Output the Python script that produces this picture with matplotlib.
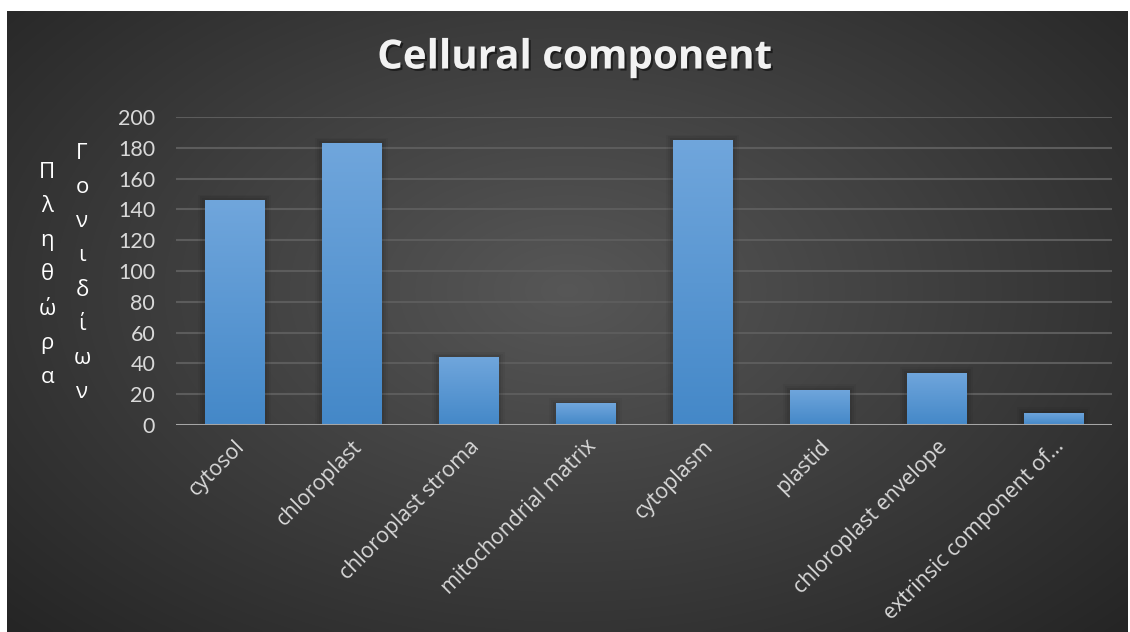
import numpy as np
import matplotlib.pyplot as plt
import matplotlib.patheffects as pe
from matplotlib.patches import Rectangle

# data
categories = ['cytosol', 'chloroplast', 'chloroplast stroma', 'mitochondrial matrix',
              'cytoplasm', 'plastid', 'chloroplast envelope', 'extrinsic component of...']
counts = [146, 183, 44, 14, 185, 23, 34, 8]
y_ticks = list(range(0, 201, 20))
title = 'Cellural component'
ylabel_1 = 'Πληθώρα'
ylabel_2 = 'Γονιδίων'

W, H = 1130, 632
fig = plt.figure(figsize=(W / 100, H / 100), dpi=100, facecolor='white')
plt.rcParams['font.family'] = ['Lato', 'DejaVu Sans']

# radial gradient background (dark chart area inside a thin white margin)
bg = fig.add_axes([7 / W, 0, (1128 - 7) / W, (H - 11) / H])
bg.set_axis_off()
yy, xx = np.mgrid[0:1:300j, 0:1:600j]
r = np.sqrt(((xx - 0.5) / 0.75) ** 2 + ((yy - 0.45) / 0.85) ** 2)
shade = np.clip(0.34 - 0.21 * r, 0.14, 0.35)
bg.imshow(np.dstack([shade] * 3), aspect='auto', extent=[0, 1, 0, 1], interpolation='bicubic')

# plot area in pixels: x 176..1112, y 117..425
ax = fig.add_axes([176 / W, (H - 425) / H, (1112 - 176) / W, (425 - 117) / H])
ax.patch.set_alpha(0)
x = np.arange(len(categories))

for t in y_ticks[1:]:
    ax.axhline(t, color='#5c5c5c', lw=1.5, zorder=1)
ax.axhline(0, color='#a6a6a6', lw=2.2, zorder=5)

# bars with a soft shadow and vertical gradient
bw = 0.51
grad = np.linspace(0, 1, 256).reshape(-1, 1)
top_c = np.array([0x70, 0xa6, 0xdc]) / 255
bot_c = np.array([0x44, 0x88, 0xc8]) / 255
img = (bot_c + (top_c - bot_c) * grad).reshape(256, 1, 3)
for xi, v in zip(x, counts):
    for k, a in enumerate([0.06, 0.05, 0.04]):
        ax.add_patch(Rectangle((xi - bw / 2 - 0.02 * (k + 1), 0), bw + 0.04 * (k + 1),
                               v + 1.2 * (k + 1), color='black', alpha=a, lw=0, zorder=2))
    rect = Rectangle((xi - bw / 2, 0), bw, v, facecolor='none', lw=0, zorder=3)
    ax.add_patch(rect)
    im = ax.imshow(img, extent=[xi - bw / 2, xi + bw / 2, 0, v], origin='lower',
                   aspect='auto', zorder=3)
    im.set_clip_path(rect)
ax.set_xlim(-0.5, len(categories) - 0.5)
ax.set_ylim(0, 200)

for s in ax.spines.values():
    s.set_visible(False)
ax.set_yticks(y_ticks)
ax.set_yticklabels([str(t) for t in y_ticks], color='#d9d9d9', fontsize=15.5)
ax.set_xticks(x)
ax.set_xticklabels(categories, rotation=45, ha='right', va='top', rotation_mode='anchor',
                   color='#d9d9d9', fontsize=15.3, family=['Open Sans', 'DejaVu Sans'])
ax.tick_params(axis='y', length=0, pad=15)
ax.tick_params(axis='x', length=0, pad=8)

# stacked y-axis title, two columns
fig.text(47 / W, 1 - 275 / H, '\n'.join(ylabel_1), color='white', fontsize=16,
         ha='center', va='center', linespacing=1.82, family=['Open Sans', 'DejaVu Sans'])
fig.text(82 / W, 1 - 273 / H, '\n'.join(ylabel_2), color='white', fontsize=16,
         ha='center', va='center', linespacing=1.82, family=['Open Sans', 'DejaVu Sans'])

fig.text(574 / W, 1 - 58 / H, title, color='#f2f2f2', fontsize=29, fontweight='bold',
         ha='center', va='center', family=['Open Sans', 'DejaVu Sans'],
         path_effects=[pe.withSimplePatchShadow(offset=(1.5, -1.5), shadow_rgbFace='black', alpha=0.5)])

fig.savefig('out.png', dpi=100, facecolor='white')
